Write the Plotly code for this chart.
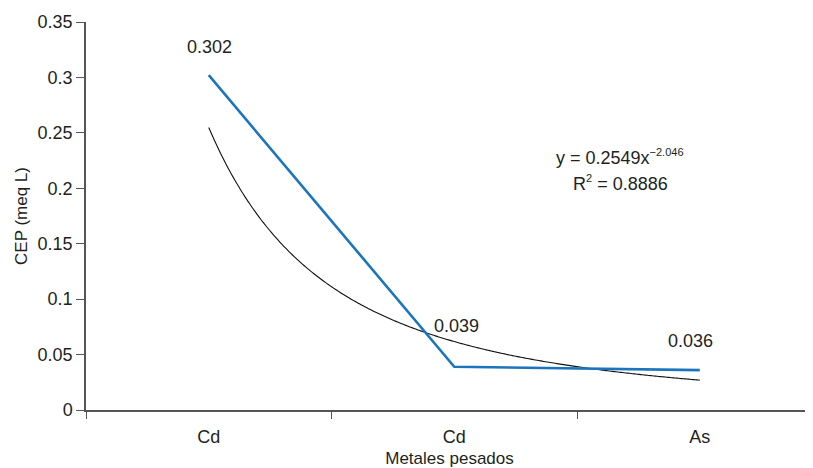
import numpy as np
import plotly.graph_objects as go

categories = ["Cd", "Cd", "As"]
x_pos = [1, 2, 3]
cep_values = [0.302, 0.039, 0.036]
cep_labels = ["0.302", "0.039", "0.036"]
trend_coef = 0.2549
trend_exp = -2.046
y_ticks = [0, 0.05, 0.1, 0.15, 0.2, 0.25, 0.3, 0.35]
y_tick_text = ["0", "0.05", "0.1", "0.15", "0.2", "0.25", "0.3", "0.35"]

FONT = "Liberation Sans, Arial, sans-serif"
TXT = "#231f20"

xt = np.linspace(1, 3, 300)
yt = trend_coef * xt ** trend_exp

fig = go.Figure()
fig.add_trace(go.Scatter(x=xt, y=yt, mode="lines",
                         line=dict(color="#111111", width=1.1, simplify=False),
                         hoverinfo="skip", showlegend=False))
fig.add_trace(go.Scatter(x=x_pos, y=cep_values, mode="lines",
                         line=dict(color="#1b75bc", width=2.6),
                         showlegend=False))

label_offsets = [28, 41, 29]
label_dx = [1, 2, -9]
for xv, yv, txt, off, dx in zip(x_pos, cep_values, cep_labels, label_offsets, label_dx):
    fig.add_annotation(x=xv, y=yv, text=txt, showarrow=False,
                       yshift=off, xshift=dx,
                       font=dict(family=FONT, size=18, color=TXT))

fig.add_annotation(x=2.675, y=0.2282, xref="x", yref="y",
                   text="y = 0.2549x<sup><span style='font-size:11px'>−2.046</span></sup>",
                   showarrow=False,
                   font=dict(family=FONT, size=18, color=TXT))
fig.add_annotation(x=2.675, y=0.2048, xref="x", yref="y",
                   text="R<sup><span style='font-size:11px'>2</span></sup> = 0.8886",
                   showarrow=False,
                   font=dict(family=FONT, size=18, color=TXT))

# page body adds an 8px offset; compensate so the plot area sits at 86..813 x 22..410
fig.update_layout(
    width=805, height=460,
    margin=dict(l=78, r=0, t=14, b=58),
    paper_bgcolor="white", plot_bgcolor="white",
    font=dict(family=FONT, size=18, color=TXT),
    xaxis=dict(range=[0.5, 3.461], tickvals=x_pos, ticktext=categories,
               ticks="", showgrid=False, zeroline=False,
               showline=True, linecolor="#555555", linewidth=1.5,
               ticklabelstandoff=10,
               minor=dict(tick0=0.5, dtick=1, ticks="outside", ticklen=7,
                          tickcolor="#555555", tickwidth=1.3, showgrid=False),
               title=dict(text="Metales pesados", standoff=8,
                          font=dict(family=FONT, size=17, color=TXT)),
               tickfont=dict(family=FONT, size=18, color=TXT)),
    yaxis=dict(range=[0, 0.35], tickvals=y_ticks, ticktext=y_tick_text,
               ticks="outside", ticklen=8, tickcolor="#555555", tickwidth=1.3,
               showgrid=False, zeroline=False,
               showline=True, linecolor="#555555", linewidth=1.5,
               title=dict(text="CEP (meq L)", standoff=6,
                          font=dict(family=FONT, size=17, color=TXT)),
               tickfont=dict(family=FONT, size=18, color=TXT)),
)

fig.write_html("out.html")
